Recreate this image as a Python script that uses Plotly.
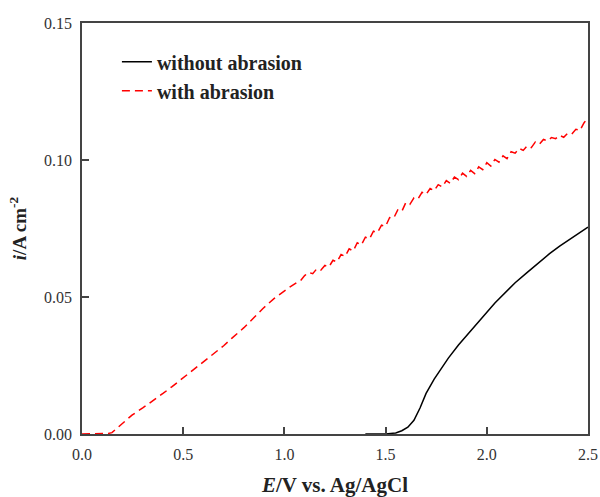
import plotly.graph_objects as go

# without abrasion (E / V, i / A cm^-2)
e_without = [1.40, 1.50, 1.55, 1.58, 1.61, 1.64, 1.67, 1.70, 1.74, 1.78, 1.81, 1.86, 1.92, 1.98,
             2.04, 2.09, 2.14, 2.20, 2.25, 2.31, 2.36, 2.40, 2.45, 2.50]
i_without = [0.0, 0.0, 0.0004, 0.0012, 0.0025, 0.0050, 0.0095, 0.0148, 0.0200, 0.0245, 0.0277,
             0.0325, 0.0378, 0.0427, 0.0478, 0.0515, 0.0552, 0.0590, 0.0622, 0.0658, 0.0686,
             0.0706, 0.0728, 0.0755]

# with abrasion
e_with = [0.00, 0.05, 0.10, 0.13, 0.148, 0.20, 0.247, 0.30, 0.346, 0.40, 0.445, 0.50, 0.543,
          0.60, 0.642, 0.70, 0.741, 0.80, 0.85, 0.894, 0.95, 1.00, 1.03, 1.06, 1.08,
          1.10, 1.12, 1.14, 1.16, 1.18, 1.20, 1.22, 1.24, 1.26, 1.28, 1.30, 1.32, 1.34, 1.36,
          1.38, 1.40, 1.42, 1.44, 1.46, 1.48, 1.50, 1.52, 1.54, 1.56, 1.58, 1.60, 1.62, 1.64,
          1.66, 1.68, 1.70, 1.72, 1.74, 1.76, 1.78, 1.80, 1.82, 1.84, 1.86, 1.88, 1.90, 1.92,
          1.94, 1.96, 1.98, 2.00, 2.02, 2.04, 2.06, 2.08, 2.10, 2.12, 2.14, 2.16, 2.18, 2.20,
          2.22, 2.24, 2.26, 2.28, 2.30, 2.32, 2.34, 2.36, 2.38, 2.40, 2.42, 2.44, 2.46, 2.48,
          2.50]
i_with = [0.0, 0.0, 0.0, 0.0002, 0.0005, 0.0040, 0.0069, 0.0095, 0.0118, 0.0148, 0.0173, 0.0205,
          0.0232, 0.0265, 0.0288, 0.0322, 0.0350, 0.0388, 0.0425, 0.0458, 0.0495, 0.0524, 0.0538,
          0.0552, 0.0560,
          0.0578, 0.0590, 0.0585, 0.0603, 0.0598, 0.0615, 0.0610, 0.0634, 0.0628, 0.0655, 0.0648,
          0.0676, 0.0668, 0.0698, 0.0690, 0.0718, 0.0712, 0.0740, 0.0735, 0.0762, 0.0758, 0.0790,
          0.0788, 0.0818, 0.0812, 0.0845, 0.0838, 0.0862, 0.0858, 0.0882, 0.0874, 0.0896, 0.0888,
          0.0910, 0.0902, 0.0925, 0.0915, 0.0938, 0.0928, 0.0952, 0.0940, 0.0962, 0.0950, 0.0975,
          0.0965, 0.0990, 0.0978, 0.1002, 0.0992, 0.1015, 0.1005, 0.1030, 0.1025, 0.1042, 0.1035,
          0.1052, 0.1045, 0.1066, 0.1058, 0.1075, 0.1070, 0.1082, 0.1078, 0.1090, 0.1083, 0.1098,
          0.1095, 0.1112, 0.1108, 0.1135, 0.1155]

x_ticks = [0.0, 0.5, 1.0, 1.5, 2.0, 2.5]
y_ticks = [0.00, 0.05, 0.10, 0.15]

fig = go.Figure()
fig.add_trace(go.Scatter(x=e_without, y=i_without, mode="lines", name="<b>without abrasion</b>",
                         line=dict(color="black", width=1.5)))
fig.add_trace(go.Scatter(x=e_with, y=i_with, mode="lines", name="<b>with abrasion</b>",
                         line=dict(color="#ff0000", width=1.5, dash="8px,5px")))

axis_common = dict(showline=True, linecolor="#444", linewidth=1.5, mirror=True,
                   ticks="inside", ticklen=7, tickwidth=1.5, tickcolor="#444",
                   showgrid=False, zeroline=False, automargin=False, ticklabelstandoff=5,
                   tickfont=dict(family="Liberation Serif", size=16, color="#333"))

fig.update_xaxes(range=[0, 2.5], tickvals=x_ticks, tickformat=".1f",
                 title=dict(text="<b><i>E</i>/V vs. Ag/AgCl</b>", standoff=16,
                            font=dict(family="Liberation Serif", size=21, color="#222")),
                 **axis_common)
fig.update_yaxes(range=[0, 0.15], tickvals=y_ticks, tickformat=".2f",
                 title=dict(text="<b><i>i</i>/A cm<sup>-2</sup></b>", standoff=12,
                            font=dict(family="Liberation Serif", size=19, color="#222")),
                 **axis_common)

fig.update_layout(
    width=600, height=497,
    margin=dict(l=82, r=12, t=23, b=63),
    paper_bgcolor="white", plot_bgcolor="white",
    legend=dict(x=0.069, y=0.953, xanchor="left", yanchor="top", bgcolor="rgba(0,0,0,0)",
                font=dict(family="Liberation Serif", size=20, color="#222"),
                tracegroupgap=0),
    showlegend=True,
)

fig.write_html("out.html", config={"displayModeBar": False},
               post_script="document.body.style.margin='0';document.body.style.overflow='hidden';")
